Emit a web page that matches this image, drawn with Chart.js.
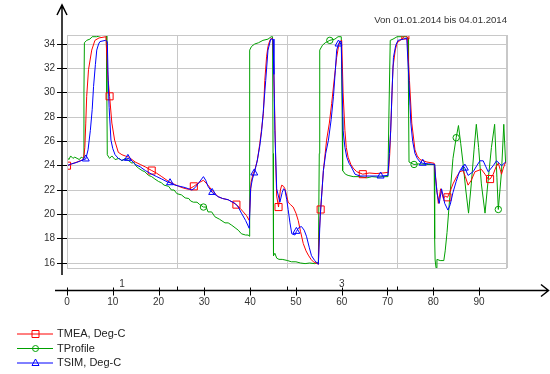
<!DOCTYPE html>
<html>
<head>
<meta charset="utf-8">
<script src="https://cdn.jsdelivr.net/npm/chart.js@4.4.1/dist/chart.umd.min.js"></script>
<style>
  html, body { margin: 0; padding: 0; background: #fff; }
  #wrap { width: 550px; height: 374px; }
</style>
</head>
<body>
<div id="wrap"><canvas id="chart" width="550" height="374"></canvas></div>
<script>
// hours since 01.01.2014 00:00 and temperatures (Deg-C)
const tmeaHours = [0, 3.6, 3.9, 4.1, 4.3, 4.7, 5.4, 6.1, 7.0, 8.5,
  8.9, 9.3, 9.8, 10.4, 11.2, 12.0, 12.7, 13.5, 14.2, 14.9,
  16.0, 17.1, 18.5, 19.5, 20.7, 22.2, 23.3, 24.4, 25.5, 26.6,
  27.7, 28.8, 29.8, 30.8, 31.6, 33.0, 34.0, 35.2, 36.1, 37.0,
  37.8, 38.5, 39.2, 39.8, 40.2, 40.6, 41.0, 41.6, 42.1, 42.5,
  42.9, 43.2, 43.6, 43.9, 44.3, 44.7, 45.0, 45.3, 45.6, 45.8,
  46.2, 46.6, 46.9, 47.3, 47.6, 48.0, 48.3, 48.8, 49.4, 50.0,
  50.5, 51.0, 51.6, 52.2, 52.7, 53.3, 53.8, 54.4, 54.9, 55.1,
  55.4, 56.0, 56.7, 57.3, 57.8, 58.4, 58.9, 59.3, 59.6, 60.0,
  60.3, 60.7, 61.0, 61.4, 62.0, 62.5, 63.3, 64.6, 66.0, 67.5,
  69.0, 70.2, 70.5, 70.8, 71.2, 71.7, 72.1, 73.1, 73.9, 74.3,
  74.8, 75.3, 76.0, 76.5, 77.1, 78.6, 80.2, 80.4, 80.7, 81.1,
  81.6, 82.2, 82.6, 83.1, 83.6, 84.3, 85.1, 85.8, 86.5, 87.0,
  87.6, 88.3, 89.1, 90.5, 91.3, 92.0, 92.4, 93.1, 93.7, 94.2,
  94.6, 94.9, 95.3, 95.8];
const tmeaTemp = [24.0, 24.5, 25.5, 27.5, 29.7, 31.9, 33.5, 34.3, 34.5, 34.6,
  31.5, 29.7, 27.5, 26.1, 25.1, 24.9, 24.8, 24.7, 24.5, 24.3,
  24.1, 23.9, 23.6, 23.4, 23.1, 22.7, 22.5, 22.3, 22.15, 22.05,
  22.3, 22.6, 22.8, 22.4, 22.0, 21.45, 21.3, 21.2, 21.0, 20.8,
  20.5, 20.2, 19.9, 19.5, 22.6, 23.3, 23.6, 24.5, 25.8, 27.0,
  28.3, 31.0, 33.0, 33.8, 34.3, 34.5, 34.3, 29.5, 24.0, 21.5,
  20.6, 22.0, 22.4, 22.3, 22.1, 21.5, 21.0, 20.8, 20.6, 20.1,
  19.5, 18.6, 17.6, 17.0, 16.65, 16.3, 16.1, 16.0, 15.9, 18.5,
  20.4, 23.6, 26.1, 27.5, 29.1, 31.2, 32.9, 33.8, 34.2, 34.3,
  30.0, 26.9, 25.5, 24.7, 24.1, 23.8, 23.5, 23.3, 23.4, 23.35,
  23.4, 23.45, 25.0, 28.0, 32.1, 33.5, 34.1, 34.4, 34.7, 34.6,
  31.0, 27.5, 25.3, 24.8, 24.5, 24.3, 24.2, 23.5, 22.3, 20.9,
  22.1, 21.3, 21.5, 21.4, 21.8, 22.5, 23.1, 23.5, 23.6, 23.1,
  22.4, 22.8, 23.5, 23.7, 23.3, 22.9, 22.9, 23.3, 23.9, 24.2,
  23.7, 23.3, 23.8, 24.3];
const tmeaMarks = [0, 9.3, 18.5, 27.7, 37.0, 46.2, 55.4, 64.6, 73.9, 83.1, 92.4];

const profHours = [0, 0.4, 0.8, 1.3, 1.7, 2.2, 2.7, 3.1, 3.6, 3.7,
  3.8, 4.3, 5.0, 5.5, 6.5, 7.5, 8.6, 8.7, 8.8, 9.3,
  9.8, 10.5, 11.4, 12.0, 12.7, 13.5, 14.2, 14.6, 15.0, 15.6,
  16.4, 17.0, 17.8, 18.5, 19.2, 20.0, 20.6, 21.2, 22.2, 22.8,
  23.4, 24.0, 25.0, 25.8, 26.6, 27.0, 27.6, 28.4, 29.0, 29.8,
  30.4, 30.8, 31.6, 32.3, 33.3, 34.5, 35.2, 36.0, 36.7, 37.4,
  38.1, 39.0, 39.6, 39.8, 39.9, 40.3, 41.0, 41.8, 42.8, 43.9,
  44.6, 44.9, 45.0, 45.1, 45.4, 45.8, 46.3, 47.0, 48.2, 49.0,
  50.0, 51.0, 52.0, 53.0, 54.1, 54.9, 55.1, 55.2, 55.8, 56.4,
  57.4, 58.5, 59.2, 59.9, 60.1, 60.2, 60.8, 61.4, 62.5, 64.0,
  65.5, 66.6, 68.0, 69.0, 70.1, 70.3, 70.6, 71.2, 72.1, 73.1,
  74.2, 74.5, 74.6, 74.7, 75.2, 75.8, 77.0, 78.5, 80.2, 80.3,
  80.4, 80.6, 80.8, 81.5, 82.3, 82.6, 83.0, 83.6, 84.3, 85.0,
  85.5, 86.0, 86.5, 87.1, 87.7, 88.3, 88.9, 89.4, 89.9, 90.5,
  91.3, 91.9, 92.7, 93.4, 93.9, 94.2, 94.9, 95.4, 95.8];
const profTemp = [24.7, 24.5, 24.8, 24.6, 24.7, 24.6, 24.5, 24.7, 24.6, 30.0,
  34.1, 34.3, 34.4, 34.6, 34.6, 34.7, 34.7, 30.0, 24.9, 24.6,
  24.8, 24.5, 24.6, 24.4, 24.6, 24.4, 24.2, 24.3, 24.0, 23.8,
  23.6, 23.5, 23.2, 23.1, 22.9, 22.7, 22.6, 22.4, 22.3, 22.0,
  22.0, 21.7, 21.6, 21.35, 21.3, 21.1, 21.0, 21.0, 20.8, 20.6,
  20.6, 20.2, 20.2, 19.8, 19.6, 19.3, 19.3, 19.1, 18.9, 18.7,
  18.4, 18.3, 18.3, 18.2, 33.5, 33.8, 34.0, 34.1, 34.3, 34.4,
  34.6, 34.6, 25.0, 16.6, 16.8, 16.4, 16.3, 16.3, 16.2, 16.1,
  16.1, 16.0, 15.95, 16.0, 15.95, 16.05, 25.0, 33.5, 33.9, 34.1,
  34.3, 34.4, 34.6, 34.6, 28.0, 23.6, 23.3, 23.2, 23.1, 23.1,
  23.0, 23.1, 23.05, 23.1, 23.1, 28.0, 34.3, 34.4, 34.6, 34.6,
  34.6, 34.5, 29.0, 24.3, 24.2, 24.1, 24.15, 24.1, 24.1, 18.0,
  16.25, 15.6, 16.3, 16.2, 16.2, 17.0, 18.5, 21.4, 24.6, 26.3,
  27.3, 25.8, 24.2, 22.0, 20.1, 22.5, 25.3, 27.4, 25.5, 22.5,
  20.1, 22.5, 25.5, 27.4, 23.0, 20.4, 23.5, 27.4, 24.2];
const profMarks = [29.8, 57.4, 75.8, 85.0, 94.2];

const simHours = [0, 1.0, 2.0, 3.0, 3.6, 4.1, 4.6, 5.1, 5.5, 5.8,
  6.2, 6.5, 6.9, 7.2, 8.4, 8.8, 9.0, 9.2, 9.6, 10.0,
  10.5, 11.2, 11.9, 12.7, 13.3, 13.9, 14.9, 16.0, 17.1, 18.5,
  19.6, 20.7, 22.0, 22.5, 23.6, 24.7, 25.8, 27.3, 28.0, 28.8,
  29.4, 29.8, 30.3, 30.8, 31.7, 33.0, 34.0, 35.2, 36.7, 37.4,
  38.1, 39.0, 39.8, 40.1, 40.5, 40.9, 41.5, 42.1, 42.5, 42.9,
  43.4, 43.9, 44.5, 45.0, 45.2, 45.4, 45.8, 46.5, 47.0, 47.3,
  47.6, 48.0, 48.3, 48.7, 49.1, 49.8, 50.1, 50.6, 51.2, 51.8,
  52.3, 52.9, 53.4, 54.1, 54.9, 55.3, 56.0, 56.5, 57.1, 57.7,
  58.2, 58.6, 58.9, 59.3, 59.6, 59.9, 60.3, 60.7, 61.1, 61.6,
  62.1, 62.9, 64.0, 66.0, 68.5, 70.1, 70.4, 70.7, 71.0, 71.3,
  71.8, 72.3, 73.5, 74.2, 74.6, 75.1, 75.5, 76.0, 76.5, 77.1,
  77.7, 79.0, 80.3, 80.5, 80.8, 81.3, 81.8, 82.1, 82.5, 83.2,
  83.7, 84.3, 85.0, 85.7, 86.5, 86.9, 87.6, 88.7, 89.5, 90.2,
  90.9, 91.5, 92.0, 93.1, 93.8, 94.4, 94.9, 95.8];
const simTemp = [24.0, 24.15, 24.25, 24.4, 24.5, 24.55, 25.3, 26.9, 28.6, 30.5,
  32.3, 33.5, 34.0, 34.2, 34.3, 34.2, 31.0, 28.8, 26.1, 25.4,
  24.9, 24.6, 24.45, 24.5, 24.6, 24.5, 24.1, 23.9, 23.6, 23.3,
  23.1, 22.9, 22.65, 22.6, 22.4, 22.3, 22.2, 22.0, 22.2, 22.6,
  22.9, 23.1, 22.8, 22.3, 21.8, 21.45, 21.3, 21.2, 20.9, 20.6,
  20.1, 19.5, 18.85, 22.1, 22.9, 23.4, 24.3, 25.6, 26.8, 28.6,
  31.0, 33.5, 34.4, 34.4, 31.5, 26.9, 22.1, 21.0, 21.8, 22.1,
  22.0, 21.2, 20.4, 19.3, 18.4, 18.3, 18.6, 18.9, 19.0, 18.7,
  18.2, 17.3, 16.6, 16.2, 15.9, 19.8, 23.6, 25.0, 26.1, 27.8,
  29.7, 31.8, 33.5, 34.0, 34.2, 34.2, 26.9, 25.5, 24.7, 24.2,
  23.9, 23.3, 23.15, 23.15, 23.15, 23.2, 25.0, 26.9, 30.2, 32.9,
  33.9, 34.3, 34.4, 34.5, 31.6, 27.5, 26.0, 25.0, 24.6, 24.3,
  24.2, 24.15, 24.1, 23.0, 21.8, 20.9, 22.1, 21.6, 20.9, 20.35,
  20.8, 21.8, 22.7, 23.5, 24.0, 23.8, 23.2, 23.5, 24.0, 24.4,
  24.4, 23.9, 23.5, 24.0, 24.4, 24.2, 24.0, 24.3];
const simMarks = [4.1, 13.3, 22.5, 31.7, 40.9, 50.1, 59.3, 68.5, 77.7, 86.9];

const xTicks = [0, 10, 20, 30, 40, 50, 60, 70, 80, 90];
const dayBounds = [24, 48, 72];
const dayLabelPos = [12, 60];
const dayLabels = ["1", "3"];
const titleText = "Von 01.01.2014 bis 04.01.2014";

const FONT = "'Liberation Sans', Arial, sans-serif";

function toPoints(xs, ys) {
  return xs.map((x, i) => ({ x: x, y: ys[i] }));
}

function markRadius(marks, r) {
  return ctx => (ctx.raw && marks.includes(ctx.raw.x)) ? r : 0;
}

// black arrow axes, x ticks, day labels, title and legend
const decor = {
  id: "decor",
  afterDraw(chart) {
    const { ctx, chartArea: a, scales: { x } } = chart;
    ctx.save();

    ctx.strokeStyle = "#c8c8c8";
    ctx.lineWidth = 1;
    ctx.strokeRect(a.left + 0.5, a.top + 0.5, a.right - a.left - 1, a.bottom - a.top);

    ctx.strokeStyle = "#000";
    ctx.lineWidth = 1.5;
    // y axis with arrow
    const ax = a.left - 5;
    ctx.beginPath();
    ctx.moveTo(ax, 5);
    ctx.lineTo(ax, a.bottom + 7);
    ctx.moveTo(ax - 5, 15);
    ctx.lineTo(ax, 5);
    ctx.lineTo(ax + 5, 15);
    ctx.stroke();

    // x axis with arrow
    const ay = 290.5;
    ctx.beginPath();
    ctx.moveTo(55, ay);
    ctx.lineTo(548, ay);
    ctx.moveTo(541, ay - 6);
    ctx.lineTo(548.5, ay);
    ctx.lineTo(541, ay + 6);
    ctx.stroke();

    ctx.lineWidth = 1;
    ctx.beginPath();
    xTicks.forEach(v => {
      const px = Math.round(x.getPixelForValue(v)) + 0.5;
      ctx.moveTo(px, ay - 3);
      ctx.lineTo(px, ay + 5);
    });
    dayBounds.forEach(v => {
      const px = Math.round(x.getPixelForValue(v)) + 0.5;
      ctx.moveTo(px, ay - 4);
      ctx.lineTo(px, ay);
    });
    ctx.stroke();

    ctx.fillStyle = "#333";
    ctx.font = "10px " + FONT;
    ctx.textAlign = "center";
    ctx.textBaseline = "middle";
    xTicks.forEach(v => ctx.fillText(String(v), x.getPixelForValue(v), 302));
    dayLabelPos.forEach((v, i) => ctx.fillText(dayLabels[i], x.getPixelForValue(v), 284));

    ctx.textAlign = "right";
    ctx.font = "9.6px " + FONT;
    ctx.fillText(titleText, a.right, 20);

    // legend
    chart.data.datasets.forEach((ds, i) => {
      const ly = 334 + i * 14.5;
      ctx.strokeStyle = ds.borderColor;
      ctx.lineWidth = 1;
      ctx.beginPath();
      ctx.moveTo(17, ly);
      ctx.lineTo(53, ly);
      ctx.stroke();
      ctx.beginPath();
      if (ds.pointStyle === "rect") {
        ctx.rect(32, ly - 3.5, 7, 7);
      } else if (ds.pointStyle === "circle") {
        ctx.arc(35.5, ly, 3, 0, Math.PI * 2);
      } else {
        ctx.moveTo(35.5, ly - 4);
        ctx.lineTo(39, ly + 2.5);
        ctx.lineTo(32, ly + 2.5);
        ctx.closePath();
      }
      ctx.stroke();
      ctx.fillStyle = "#222";
      ctx.font = "11px " + FONT;
      ctx.textAlign = "left";
      ctx.fillText(ds.label, 57, ly);
    });
    ctx.restore();
  }
};

new Chart(document.getElementById("chart"), {
  type: "line",
  data: {
    datasets: [
      {
        label: "TMEA, Deg-C",
        data: toPoints(tmeaHours, tmeaTemp),
        borderColor: "#ff0000",
        pointStyle: "rect",
        pointRadius: markRadius(tmeaMarks, 5),
        order: 2
      },
      {
        label: "TProfile",
        data: toPoints(profHours, profTemp),
        borderColor: "#00a000",
        pointStyle: "circle",
        pointRadius: markRadius(profMarks, 3.2),
        order: 3
      },
      {
        label: "TSIM, Deg-C",
        data: toPoints(simHours, simTemp),
        borderColor: "#0000ff",
        pointStyle: "triangle",
        pointRadius: markRadius(simMarks, 4),
        order: 1
      }
    ]
  },
  options: {
    responsive: false,
    animation: false,
    events: [],
    layout: { padding: { left: 0, top: 35, right: 43, bottom: 106 } },
    elements: {
      line: { borderWidth: 1, tension: 0 },
      point: { borderWidth: 1, backgroundColor: "rgba(0,0,0,0)", hoverRadius: 0 }
    },
    plugins: { legend: { display: false }, tooltip: { enabled: false } },
    scales: {
      x: {
        type: "linear",
        min: 0,
        max: 96.1,
        afterFit: s => { s.height = 0; },
        ticks: { display: false, stepSize: 24, includeBounds: false },
        grid: { color: "#c8c8c8", drawTicks: false },
        border: { display: false }
      },
      y: {
        min: 15.59,
        max: 34.74,
        afterFit: s => { s.width = 67; },
        ticks: {
          stepSize: 2,
          includeBounds: false,
          padding: 2,
          color: "#333",
          font: { size: 10, family: FONT }
        },
        grid: { color: "#c8c8c8", tickColor: "#000", tickLength: 10 },
        border: { color: "#c8c8c8" }
      }
    }
  },
  plugins: [decor]
});
</script>
</body>
</html>
